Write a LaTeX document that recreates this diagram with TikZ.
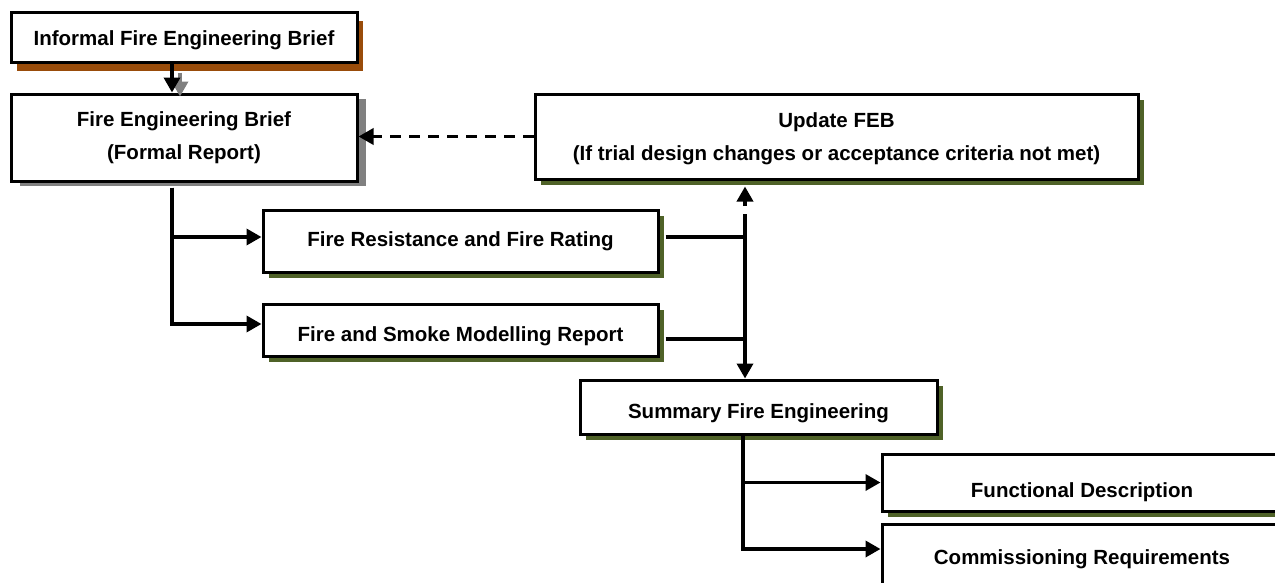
\documentclass[tikz,border=0pt]{standalone}
\usepackage{fontspec}
\setmainfont{Liberation Sans}
\usetikzlibrary{arrows.meta,shadows,calc}
\definecolor{shbrown}{RGB}{153,76,10}
\definecolor{shgray}{RGB}{128,128,128}
\definecolor{shgreen}{RGB}{79,98,40}
\tikzset{
  box/.style={draw=black, line width=3pt, fill=white, inner sep=0pt, align=center,
    font=\bfseries\fontsize{20.5}{33}\selectfont},
  greensh/.style={drop shadow={shadow xshift=6pt, shadow yshift=-6pt, fill=shgreen, opacity=1}},
  conn/.style={line width=3.5pt, draw=black},
  arr/.style={conn, -{Triangle[length=15pt,width=16pt]}},
  dsh/.style={dash pattern=on 11pt off 8pt}
}
\newcommand{\lowtext}[2]{\raisebox{-#1}[\height][\depth]{#2}}
\begin{document}
\begin{tikzpicture}[x=1pt,y=-1pt]
\path[use as bounding box] (0,0) rectangle (1275,582);
\clip (0,0) rectangle (1275,582);
\fill[white] (0,0) rectangle (1275,582);

\node[box, minimum width=346pt, minimum height=50pt,
  drop shadow={shadow xshift=6pt, shadow yshift=-9pt, fill=shbrown, opacity=1}]
  (inf) at (184,37) {\lowtext{3pt}{Informal Fire Engineering Brief}};
\node[box, minimum width=346pt, minimum height=87pt,
  drop shadow={shadow xshift=9pt, shadow yshift=-5pt, fill=shgray, opacity=1}]
  (feb) at (184,137.5) {Fire Engineering Brief\\(Formal Report)};
\node[box, greensh, minimum width=603pt, minimum height=85pt]
  (upd) at (836.5,136.5) {\lowtext{2pt}{Update FEB}\\\lowtext{2pt}{(If trial design changes or acceptance criteria not met)}};
\node[box, greensh, minimum width=395pt, minimum height=62pt]
  (fr) at (460.5,241) {Fire Resistance and Fire Rating};
\node[box, greensh, minimum width=395pt, minimum height=52pt]
  (fs) at (460.5,330) {\lowtext{6pt}{Fire and Smoke Modelling Report}};
\node[box, greensh, minimum width=357pt, minimum height=54pt]
  (sum) at (758.5,407) {\lowtext{6pt}{Summary Fire Engineering}};
\node[box, greensh, minimum width=400pt, minimum height=57pt]
  (fd) at (1082,482.5) {\lowtext{10pt}{Functional Description}};
\node[box, minimum width=400pt, minimum height=70pt]
  (cr) at (1082,559) {Commissioning Requirements};

% Informal -> FEB (with grey shadow arrow)
\draw[arr, draw=shgray, -{Triangle[length=15pt,width=16pt,fill=shgray]}]
  ([xshift=-4pt,yshift=-9pt]inf.south) -- ([xshift=-4pt,yshift=-4pt]feb.north);
\draw[arr] ([xshift=-12pt]inf.south) -- ([xshift=-12pt]feb.north);

% FEB -> branches
\coordinate (fb) at ([xshift=-12pt,yshift=-5pt]feb.south);
\draw[arr] (fb) |- ([yshift=4pt]fr.west);
\draw[arr] (fb) |- ([yshift=6pt]fs.west);

% branches -> junction
\coordinate (jt) at (745,225);
\draw[conn] ([xshift=6pt,yshift=4pt]fr.east) -- ([yshift=4pt]fr.east -| jt);
\draw[conn] ([xshift=6pt,yshift=-9pt]fs.east) -- ([yshift=-9pt]fs.east -| jt);
\draw[arr] (jt) -- (jt |- sum.north);
\draw[arr, dsh] (jt) -- ([yshift=-6pt]jt |- upd.south);

% Update -> FEB
\draw[arr, dsh] (upd.west) -- (upd.west -| feb.east);

% Summary -> outputs
\coordinate (sb) at ([xshift=-15.5pt]sum.south);
\draw[arr] (sb) |- (fd.west);
\draw[arr] (sb) |- ([yshift=10pt]cr.west);
\end{tikzpicture}
\end{document}
